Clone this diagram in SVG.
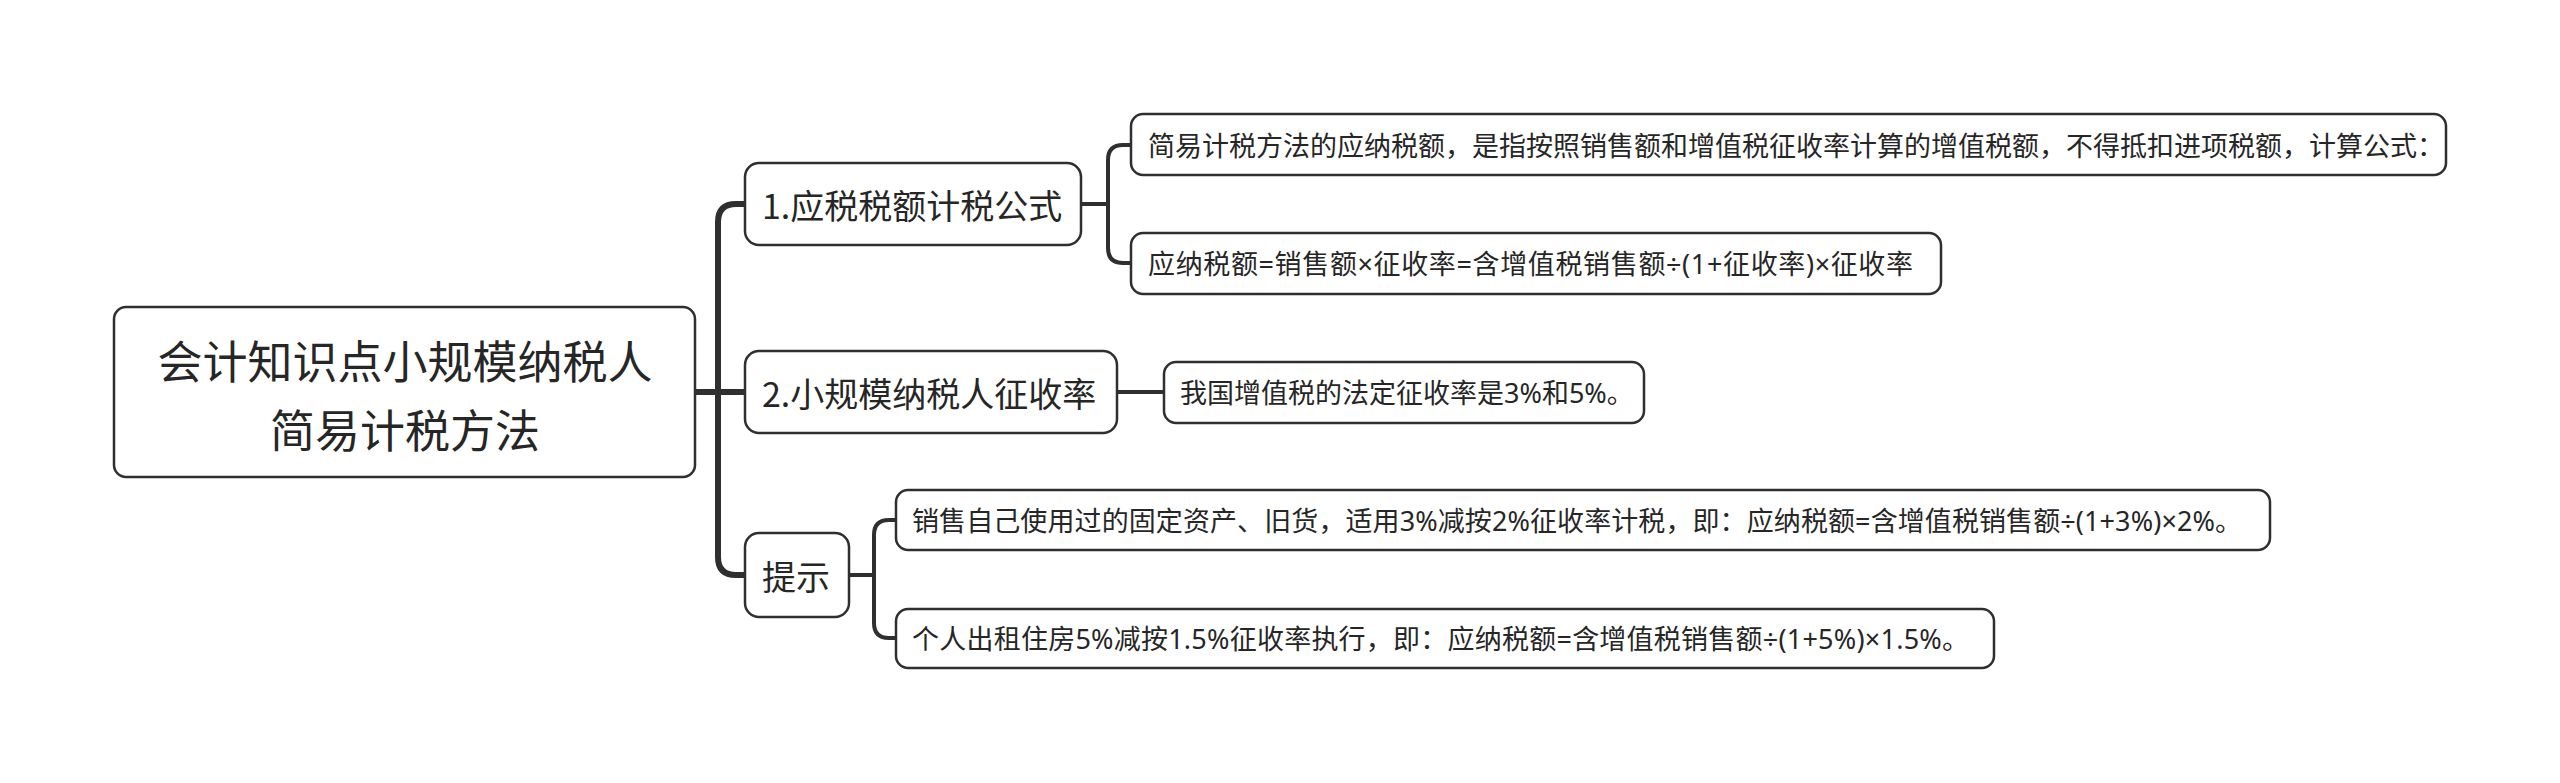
<svg xmlns="http://www.w3.org/2000/svg" width="2560" height="783" viewBox="0 0 2560 783">
<style>
.bg{fill:#ffffff}
.box{fill:#ffffff;stroke:#2f2f2f;stroke-width:2.5}
.t{font-family:"Noto Sans CJK SC","Noto Sans",sans-serif;fill:#262626;dominant-baseline:central}
.root{font-size:45px;text-anchor:middle}
.l1{font-size:34px}
.l2{font-size:27px;font-family:"Noto Sans","Noto Sans CJK SC",sans-serif}
.trunk{fill:none;stroke:#2f2f2f;stroke-width:6;stroke-linejoin:round}
.br{fill:none;stroke:#2f2f2f;stroke-width:4;stroke-linejoin:round}
</style>
<rect class="bg" x="0" y="0" width="2560" height="783"/>
<g id="connectors">
<path class="trunk" d="M695 392 H745"/>
<path class="trunk" d="M718 392 V222 Q718 204 736 204 H745"/>
<path class="trunk" d="M718 392 V557 Q718 575 736 575 H745"/>
<path class="br" d="M1081 204 H1108"/>
<path class="br" d="M1108 204 V160 Q1108 145 1123 145 H1131"/>
<path class="br" d="M1108 204 V248 Q1108 263 1123 263 H1131"/>
<path class="br" d="M1117 392 H1164"/>
<path class="br" d="M849 575 H874"/>
<path class="br" d="M874 575 V535 Q874 520 889 520 H896"/>
<path class="br" d="M874 575 V623 Q874 638 889 638 H896"/>
</g>
<g id="root">
<rect class="box" x="114" y="307" width="581" height="170" rx="12"/>
<text class="t root" x="405" y="359">会计知识点小规模纳税人</text>
<text class="t root" x="405" y="428">简易计税方法</text>
</g>
<g id="n1">
<rect class="box" x="745" y="163" width="336" height="82" rx="14"/>
<text class="t l1" x="762" y="204">1.应税税额计税公式</text>
</g>
<g id="n2">
<rect class="box" x="745" y="351" width="372" height="82" rx="14"/>
<text class="t l1" x="762" y="392">2.小规模纳税人征收率</text>
</g>
<g id="n3">
<rect class="box" x="745" y="533" width="104" height="84" rx="14"/>
<text class="t l1" x="762" y="575">提示</text>
</g>
<g id="leafA">
<rect class="box" x="1131" y="114" width="1315" height="61" rx="12"/>
<text class="t l2" x="1148" y="145">简易计税方法的应纳税额，是指按照销售额和增值税征收率计算的增值税额，不得抵扣进项税额，计算公式：</text>
</g>
<g id="leafB">
<rect class="box" x="1131" y="233" width="810" height="61" rx="12"/>
<text class="t l2" x="1148" y="263" textLength="765" lengthAdjust="spacing">应纳税额=销售额×征收率=含增值税销售额÷(1+征收率)×征收率</text>
</g>
<g id="leafC">
<rect class="box" x="1164" y="362" width="480" height="61" rx="12"/>
<text class="t l2" x="1180" y="392">我国增值税的法定征收率是3%和5%。</text>
</g>
<g id="leafD">
<rect class="box" x="896" y="490" width="1374" height="60" rx="12"/>
<text class="t l2" x="912" y="520" textLength="1330" lengthAdjust="spacing">销售自己使用过的固定资产、旧货，适用3%减按2%征收率计税，即：应纳税额=含增值税销售额÷(1+3%)×2%。</text>
</g>
<g id="leafE">
<rect class="box" x="896" y="609" width="1098" height="59" rx="12"/>
<text class="t l2" x="912" y="638" textLength="1057" lengthAdjust="spacing">个人出租住房5%减按1.5%征收率执行，即：应纳税额=含增值税销售额÷(1+5%)×1.5%。</text>
</g>
</svg>
